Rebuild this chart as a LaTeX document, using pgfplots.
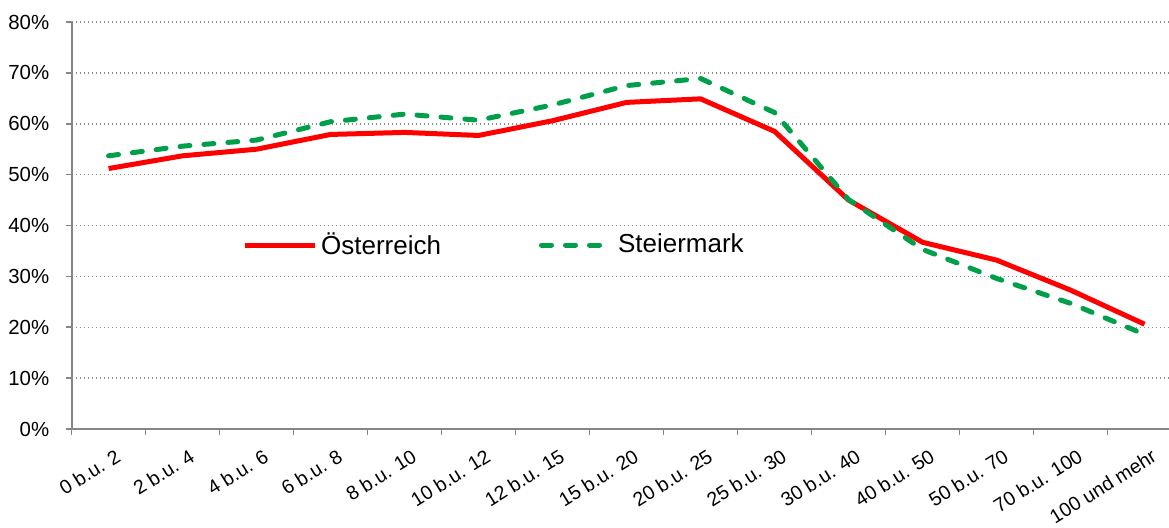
\documentclass[border=0pt]{standalone}
\usepackage{fontspec}
\setmainfont{Liberation Sans}
\usepackage{pgfplots}
\pgfplotsset{compat=1.18}
\definecolor{ored}{RGB}{255,0,0}
\definecolor{sgreen}{RGB}{0,160,75}
\definecolor{axgray}{RGB}{134,134,134}
\definecolor{gridgray}{RGB}{140,140,140}
\begin{document}
\begin{tikzpicture}
\useasboundingbox (-35.8pt,-49pt) rectangle (548.7pt,214.5pt);
\begin{axis}[
  at={(0,0)}, anchor=south west,
  scale only axis,
  width=548.7pt, height=203.5pt,
  xmin=-0.5, xmax=14.33,
  ymin=0, ymax=80,
  axis x line=bottom, axis y line=left,
  axis line style={-, draw=axgray, line width=1pt},
  tick align=outside,
  major tick length=3pt,
  tick style={draw=axgray, line width=0.8pt},
  xtick={-0.5,0.5,...,13.5},
  xticklabels={},
  extra x ticks={0,1,...,14},
  extra x tick labels={0 b.u. 2,2 b.u. 4,4 b.u. 6,6 b.u. 8,8 b.u. 10,10 b.u. 12,12 b.u. 15,15 b.u. 20,20 b.u. 25,25 b.u. 30,30 b.u. 40,40 b.u. 50,50 b.u. 70,70 b.u. 100,100 und mehr},
  extra x tick style={major tick length=0pt, grid=none},
  xticklabel style={font=\fontsize{9.8}{12}\selectfont, rotate=32, anchor=north east, inner sep=0pt, yshift=-9.5pt, xshift=-2.5pt},
  ytick={0,10,...,80},
  yticklabels={0\%,10\%,20\%,30\%,40\%,50\%,60\%,70\%,80\%},
  yticklabel style={font=\fontsize{10.2}{12}\selectfont, inner sep=0pt, xshift=-8pt},
  ymajorgrids,
  grid style={draw=gridgray, line width=0.75pt, dash pattern=on 0.9pt off 1.1pt},
  legend style={draw=none, fill=none, at={(0.155,0.452)}, anchor=west, inner sep=0pt,
    font=\fontsize{13}{15}\selectfont, column sep=0pt,
    /tikz/every even column/.append style={column sep=47pt}},
  legend columns=2,
  legend cell align=left,
  legend image code/.code={\draw[#1] (0pt,0pt) -- (35pt,0pt);},
]
\addplot[ored, line width=2.5pt, line join=round] coordinates {
(0,51.2) (1,53.7) (2,55.0) (3,57.9) (4,58.3) (5,57.7) (6,60.6) (7,64.2) (8,64.9) (9,58.5) (10,45.0) (11,36.7) (12,33.2) (13,27.3) (14,20.6)};
\addlegendentry{Österreich}
\addplot[sgreen, line width=2.5pt, line cap=round, line join=round, dash pattern=on 5pt off 7pt] coordinates {
(0,53.7) (1,55.6) (2,56.8) (3,60.4) (4,61.9) (5,60.7) (6,63.7) (7,67.5) (8,68.9) (9,62.2) (10,45.1) (11,35.3) (12,29.6) (13,24.7) (14,18.6)};
\addlegendentry{Steiermark}
\end{axis}
\end{tikzpicture}
\end{document}
